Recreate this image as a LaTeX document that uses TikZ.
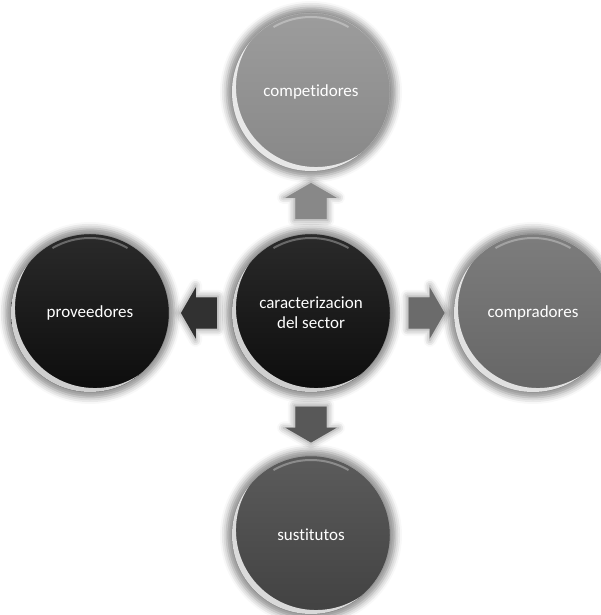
\documentclass[tikz,border=0pt]{standalone}
\usepackage{fontspec}
\setmainfont{Carlito}[Ligatures=NoCommon]
\usetikzlibrary{calc,shapes.arrows,shadows.blur}

\definecolor{negro}{HTML}{0D0D0D}
\definecolor{grisoscuro}{HTML}{454545}
\definecolor{grismedio}{HTML}{6B6B6B}
\definecolor{grisclaro}{HTML}{8F8F8F}

\tikzset{
  halo/.style={blur shadow={shadow xshift=0pt, shadow yshift=0pt,
      shadow blur radius=6pt, shadow scale=1.07, shadow opacity=45}},
  burbuja/.style={circle, minimum size=158pt, inner sep=0pt, text=white,
    font=\fontsize{17}{20}\selectfont, align=center, halo,
    top color=#1!88!white, bottom color=#1!95!black,
    path picture={
      \fill[white, opacity=.8, even odd rule]
        (path picture bounding box.center) circle (79pt)
        ([shift={(45:7pt)}]path picture bounding box.center) circle (80pt);
      \draw[white, opacity=.3, line width=2pt]
        ([shift={(60:75pt)}]path picture bounding box.center)
        arc[start angle=60, end angle=120, radius=75pt];
    }},
  flecha/.style={single arrow, fill=#1, draw=none, inner xsep=0pt,
    inner ysep=15.5pt, minimum height=36pt,
    single arrow head extend=10pt, single arrow tip angle=120, halo}
}

\begin{document}
\begin{tikzpicture}[x=1pt,y=1pt]
\useasboundingbox (0,0) rectangle (601,615);

% circulo central
\node[burbuja=negro] (centro) at (311,302) {caracterizacion\\del sector};

% circulos de alrededor
\node[burbuja=grisclaro] (competidores) at (311,523) {competidores};
\node[burbuja=negro] (proveedores) at (90,302) {proveedores};
\node[burbuja=grismedio] (compradores) at (533,302) {compradores};
\node[burbuja=grisoscuro] (sustitutos) at (311,80) {sustitutos};

% flechas
\node[flecha=grisclaro!95!black, rotate=90] (fcomp) at ($(centro)!0.5!(competidores)+(0,-3)$) {};
\node[flecha=negro!85!white, rotate=180] (fprov) at ($(centro)!0.5!(proveedores)+(3,0)$) {};
\node[flecha=grismedio] (fcompr) at ($(centro)!0.5!(compradores)$) {};
\node[flecha=grisoscuro!90!white, rotate=-90] (fsust) at ($(centro)!0.5!(sustitutos)+(0,4)$) {};

\end{tikzpicture}
\end{document}
